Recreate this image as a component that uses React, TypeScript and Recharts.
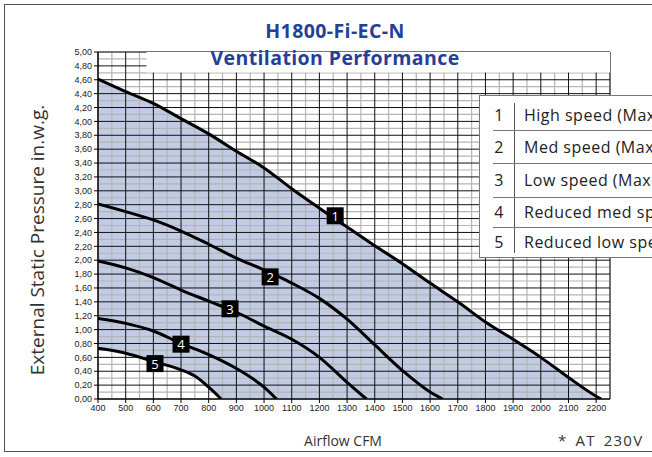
import React from 'react';
import { ComposedChart, Area, Line, XAxis, YAxis, CartesianGrid, ReferenceDot, ReferenceArea } from 'recharts';

// Curve data: airflow (CFM) vs external static pressure (in.w.g.)
const airflow1 = [400, 500, 600, 700, 800, 900, 1000, 1100, 1200, 1300, 1400, 1500, 1600, 1700, 1800, 1900, 2000, 2100, 2200, 2218];
const pressure1 = [4.61, 4.43, 4.26, 4.04, 3.82, 3.57, 3.33, 3.03, 2.75, 2.48, 2.21, 1.95, 1.67, 1.4, 1.11, 0.86, 0.6, 0.31, 0.04, 0];
const airflow2 = [400, 500, 600, 700, 800, 900, 1000, 1100, 1200, 1300, 1400, 1500, 1600, 1645];
const pressure2 = [2.81, 2.7, 2.58, 2.42, 2.23, 2.03, 1.86, 1.67, 1.45, 1.15, 0.78, 0.41, 0.1, 0];
const airflow3 = [400, 500, 600, 700, 800, 900, 1000, 1100, 1200, 1300, 1370];
const pressure3 = [1.99, 1.89, 1.75, 1.57, 1.41, 1.25, 1.05, 0.86, 0.6, 0.24, 0];
const airflow4 = [400, 500, 600, 700, 800, 900, 1000, 1045];
const pressure4 = [1.16, 1.09, 0.98, 0.8, 0.64, 0.44, 0.17, 0];
const airflow5 = [400, 500, 600, 700, 750, 800, 845];
const pressure5 = [0.73, 0.66, 0.54, 0.42, 0.33, 0.17, 0];

// Curve number badges (position in data space)
const badgeNames = ['1', '2', '3', '4', '5'];
const badgeAirflow = [1257, 1022, 877, 700, 606];
const badgePressure = [2.64, 1.76, 1.3, 0.79, 0.51];

// Axis ticks / grid
const xTicks = [400, 500, 600, 700, 800, 900, 1000, 1100, 1200, 1300, 1400, 1500, 1600, 1700, 1800, 1900, 2000, 2100, 2200];
const xMajorGrid = [400, 500, 600, 700, 800, 900, 1000, 1100, 1200, 1300, 1400, 1500, 1600, 1700, 1800, 1900, 2000, 2100, 2200, 2250];
const xMinorGrid = [450, 550, 650, 750, 850, 950, 1050, 1150, 1250, 1350, 1450, 1550, 1650, 1750, 1850, 1950, 2050, 2150];
const yTicks = [0, 0.2, 0.4, 0.6, 0.8, 1, 1.2, 1.4, 1.6, 1.8, 2, 2.2, 2.4, 2.6, 2.8, 3, 3.2, 3.4, 3.6, 3.8, 4, 4.2, 4.4, 4.6, 4.8, 5];
const yMinorGrid = [0.1, 0.3, 0.5, 0.7, 0.9, 1.1, 1.3, 1.5, 1.7, 1.9, 2.1, 2.3, 2.5, 2.7, 2.9, 3.1, 3.3, 3.5, 3.7, 3.9, 4.1, 4.3, 4.5, 4.7, 4.9];

const legendNums = ['1', '2', '3', '4', '5'];
const legendTexts = ['High speed (Max 2200 CFM)', 'Med speed (Max 1650 CFM)', 'Low speed (Max 1370 CFM)', 'Reduced med speed', 'Reduced low speed'];

const toPts = (xs: number[], ys: number[]) => xs.map((x, i) => ({ x, y: ys[i] }));
const d1 = toPts(airflow1, pressure1);
const d2 = toPts(airflow2, pressure2);
const d3 = toPts(airflow3, pressure3);
const d4 = toPts(airflow4, pressure4);
const d5 = toPts(airflow5, pressure5);

const FILL = '#c1cbe4';
const TITLE = '#253f99';
const W = 652, H = 457;
const MARGIN = { top: 52, right: 42, left: 0, bottom: 28 };
const TICKFONT = { fontSize: 9, fill: '#222', fontFamily: "'Liberation Sans', Arial, sans-serif" };
const NoTick = () => <g />;

const Badge = (props: any) => {
  const { cx, cy, label } = props;
  return (
    <g>
      <rect x={cx - 8.5} y={cy - 8.5} width={17} height={17} fill="#000" />
      <text x={cx} y={cy + 5} textAnchor="middle" fill="#fff" fontSize={13} fontFamily="'Open Sans', sans-serif">{label}</text>
    </g>
  );
};

const axes = (visible: boolean, xt: number[], yt: number[]) => [
  <XAxis key="xa" dataKey="x" type="number" domain={[400, 2250]} ticks={xt} allowDataOverflow interval={0}
    tick={visible ? TICKFONT : NoTick} tickLine={visible} axisLine={visible ? { stroke: '#000' } : false}
    tickSize={4} tickMargin={2} height={30} stroke="#000" />,
  <YAxis key="ya" type="number" domain={[0, 5]} ticks={yt} allowDataOverflow width={98} interval={0}
    tickFormatter={(v: number) => v.toFixed(2).replace('.', ',')}
    tick={visible ? TICKFONT : NoTick} tickLine={visible} axisLine={visible ? { stroke: '#000' } : false}
    tickSize={4} tickMargin={2} stroke="#000" />,
];

const layer: React.CSSProperties = { position: 'absolute', left: 0, top: 0 };

export default function App() {
  return (
    <div style={{ position: 'absolute', left: 0, top: 0, width: W, height: H, overflow: 'hidden', background: '#fff', fontFamily: "'Open Sans', sans-serif" }}>
      <div style={{ position: 'absolute', left: 4, top: 4, width: 700, height: 448, border: '1.5px solid #555', boxSizing: 'border-box' }} />
      {/* Layer 1: shaded operating region */}
      <div style={layer}>
        <ComposedChart width={W} height={H} margin={MARGIN}>
          {axes(false, xTicks, yTicks)}
          <Area data={d1} dataKey="y" type="monotone" fill={FILL} fillOpacity={1} stroke="none" isAnimationActive={false} />
          <Area data={d5} dataKey="y" type="monotone" fill="#fff" fillOpacity={1} stroke="none" isAnimationActive={false} />
        </ComposedChart>
      </div>
      {/* Layer 2: minor grid */}
      <div style={layer}>
        <ComposedChart width={W} height={H} margin={MARGIN}>
          {axes(false, xMinorGrid, yMinorGrid)}
          <CartesianGrid stroke="#b5b5b5" strokeWidth={1.2} />
          <Line data={d1} dataKey="y" stroke="none" dot={false} isAnimationActive={false} />
        </ComposedChart>
      </div>
      {/* Layer 3: major grid */}
      <div style={layer}>
        <ComposedChart width={W} height={H} margin={MARGIN}>
          {axes(false, xMajorGrid, yTicks)}
          <CartesianGrid stroke="#111" strokeWidth={1} />
          <Line data={d1} dataKey="y" stroke="none" dot={false} isAnimationActive={false} />
        </ComposedChart>
      </div>
      {/* Layer 4: axes, curves, badges */}
      <div style={layer}>
        <ComposedChart width={W} height={H} margin={MARGIN}>
          {axes(true, xTicks, yTicks)}
          <ReferenceArea x1={575} x2={2250} y1={4.705} y2={5.0} fill="#fff" fillOpacity={1} stroke="none" />
          <Line data={d1} dataKey="y" type="monotone" stroke="#000" strokeWidth={3} dot={false} isAnimationActive={false} />
          <Line data={d2} dataKey="y" type="monotone" stroke="#000" strokeWidth={3} dot={false} isAnimationActive={false} />
          <Line data={d3} dataKey="y" type="monotone" stroke="#000" strokeWidth={3} dot={false} isAnimationActive={false} />
          <Line data={d4} dataKey="y" type="monotone" stroke="#000" strokeWidth={3} dot={false} isAnimationActive={false} />
          <Line data={d5} dataKey="y" type="monotone" stroke="#000" strokeWidth={3} dot={false} isAnimationActive={false} />
          {badgeNames.map((n, i) => (
            <ReferenceDot key={n} x={badgeAirflow[i]} y={badgePressure[i]} r={8}
              shape={(p: any) => <Badge {...p} label={n} />} />
          ))}
        </ComposedChart>
      </div>
      <div style={{ position: 'absolute', left: 0, width: 670, top: 21, textAlign: 'center', color: TITLE, fontWeight: 700, fontSize: 19.5, letterSpacing: 0.4, lineHeight: '20px' }}>H1800-Fi-EC-N</div>
      <div style={{ position: 'absolute', left: 0, width: 670, top: 48, textAlign: 'center', color: TITLE, fontWeight: 700, fontSize: 19.5, letterSpacing: 0.4, lineHeight: '20px' }}>Ventilation Performance</div>
      <div style={{ position: 'absolute', left: 37, top: 240, transform: 'translate(-50%, -50%) rotate(-90deg)', whiteSpace: 'nowrap', fontSize: 19, color: '#333' }}>
        External Static Pressure in.w.g.
      </div>
      <div style={{ position: 'absolute', left: 343, top: 440, transform: 'translate(-50%, -50%)', whiteSpace: 'nowrap', fontSize: 14, color: '#333' }}>Airflow CFM</div>
      <div style={{ position: 'absolute', left: 558, top: 440, transform: 'translate(0, -50%)', whiteSpace: 'nowrap', fontSize: 15, letterSpacing: 1.2, wordSpacing: 3, color: '#333' }}>* AT 230V</div>
      <div style={{ position: 'absolute', left: 479, top: 95, width: 260, height: 163, border: '1px solid #777', background: '#fff', boxSizing: 'border-box' }}>
        <div style={{ position: 'absolute', left: 34, top: 7, width: 1, height: 150, background: '#555' }} />
        {[1, 2, 3, 4].map((k) => (
          <div key={k} style={{ position: 'absolute', left: 13, top: [34, 67, 101, 131][k - 1], width: 240, height: 1, background: '#777' }} />
        ))}
        {legendNums.map((n, i) => (
          <div key={n} style={{ position: 'absolute', left: 0, top: [19, 51, 84, 116, 146][i], transform: 'translate(0, -50%)', whiteSpace: 'nowrap', fontSize: 16, letterSpacing: 0.5, color: '#222' }}>
            <span style={{ position: 'absolute', left: 13, width: 12, textAlign: 'center' }}>{n}</span>
            <span style={{ position: 'absolute', left: 44 }}>{legendTexts[i]}</span>
            <span style={{ visibility: 'hidden' }}>0</span>
          </div>
        ))}
      </div>
    </div>
  );
}
